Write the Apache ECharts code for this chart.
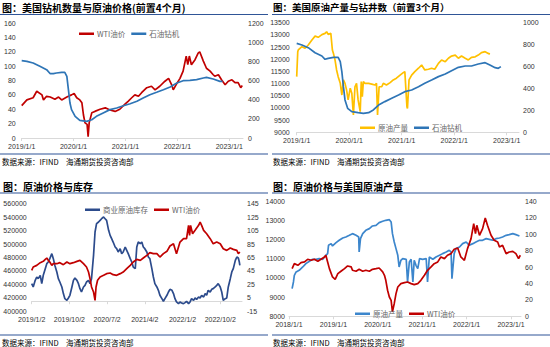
<!DOCTYPE html>
<html><head><meta charset="utf-8">
<script src="https://cdn.jsdelivr.net/npm/echarts@6/dist/echarts.min.js"></script>
<style>html,body{margin:0;padding:0;background:#fff}#c{width:550px;height:347px}</style>
</head><body><div id="c"></div>
<script>
// ---------- Panel 1: rigs (lead 4 months) vs WTI ----------
const p1Years = [2019, 2020, 2021, 2022, 2023];
const p1WtiDates = [2019.00,2019.10,2019.22,2019.29,2019.39,2019.42,2019.48,2019.55,2019.64,2019.71,2019.77,2019.87,2019.96,2020.01,2020.06,2020.12,2020.16,2020.19,2020.22,2020.26,2020.28,2020.30,2020.35,2020.41,2020.51,2020.61,2020.70,2020.80,2020.89,2020.99,2021.05,2021.12,2021.18,2021.25,2021.31,2021.41,2021.50,2021.57,2021.66,2021.76,2021.83,2021.89,2021.92,2021.99,2022.05,2022.11,2022.17,2022.20,2022.23,2022.27,2022.34,2022.40,2022.43,2022.50,2022.56,2022.63,2022.69,2022.72,2022.79,2022.85,2022.92,2022.98,2023.05,2023.11,2023.17,2023.22,2023.25];
const p1WtiValues = [45,53,56,65,60,53,58,57,54,57,53,57,60,62,56,53,49,32,21,19,2,21,35,37,40,42,39,37,40,47,51,56,60,58,63,70,72,67,72,79,83,74,67,76,83,93,114,102,114,102,109,118,120,107,97,93,88,86,88,81,74,79,81,77,77,70,73];
const p1RigDates = [2019.00,2019.10,2019.22,2019.35,2019.48,2019.55,2019.61,2019.67,2019.77,2019.83,2019.87,2019.90,2019.93,2019.96,2020.03,2020.12,2020.25,2020.35,2020.44,2020.57,2020.70,2020.83,2020.96,2021.09,2021.22,2021.34,2021.47,2021.60,2021.73,2021.86,2021.99,2022.11,2022.24,2022.37,2022.50,2022.56,2022.69,2022.82,2022.87];
const p1RigValues = [807,800,783,748,713,671,671,678,685,685,643,504,365,296,226,184,174,191,226,261,296,313,337,358,383,417,452,477,504,532,574,598,602,609,626,633,616,591,591];

// ---------- Panel 2: production vs rigs (lead 3 months) ----------
const p2Years = [2019, 2020, 2021, 2022, 2023];
const p2ProdDates = [2019.00,2019.02,2019.03,2019.10,2019.16,2019.22,2019.29,2019.35,2019.41,2019.48,2019.54,2019.57,2019.60,2019.65,2019.68,2019.70,2019.73,2019.76,2019.79,2019.83,2019.86,2019.89,2019.92,2019.95,2019.98,2020.02,2020.05,2020.08,2020.11,2020.14,2020.17,2020.21,2020.23,2020.25,2020.27,2020.30,2020.37,2020.43,2020.49,2020.52,2020.54,2020.57,2020.62,2020.65,2020.71,2020.78,2020.84,2020.90,2020.97,2021.03,2021.06,2021.10,2021.11,2021.14,2021.19,2021.25,2021.32,2021.38,2021.44,2021.51,2021.57,2021.63,2021.70,2021.76,2021.83,2021.89,2021.95,2022.02,2022.08,2022.14,2022.21,2022.27,2022.33,2022.40,2022.46,2022.52,2022.59,2022.65,2022.68];
const p2ProdValues = [11285,12310,12380,12515,12450,12585,12790,12950,12900,13010,13060,13130,13020,13060,12380,12240,11970,11560,11285,11010,10530,11150,11010,10740,10330,10810,10600,9710,10870,11010,10330,9850,11080,10460,11080,11010,11010,10980,10940,11010,9710,10870,10870,11010,10940,11040,11150,11220,11350,11450,11490,10050,9980,11150,11350,11490,11630,11760,11560,11590,11630,11590,11830,11970,11900,12040,12130,12170,12040,12130,12040,11970,12080,12100,12170,12270,12310,12240,12210];
const p2RigDates = [2019.00,2019.10,2019.22,2019.35,2019.48,2019.54,2019.60,2019.70,2019.79,2019.83,2019.86,2019.89,2019.92,2019.97,2020.05,2020.17,2020.27,2020.37,2020.46,2020.56,2020.68,2020.81,2020.94,2021.06,2021.19,2021.32,2021.44,2021.57,2021.70,2021.83,2021.95,2022.08,2022.21,2022.33,2022.46,2022.59,2022.68,2022.78,2022.84,2022.89];
const p2RigValues = [811,796,772,726,696,666,675,684,684,644,553,416,295,219,188,179,173,179,204,249,280,310,340,371,386,416,447,477,508,532,562,593,605,605,623,635,614,590,584,599];

// ---------- Panel 3: WTI vs commercial inventory ----------
const p3TickDates = [2019, 2019.75, 2020.5, 2021.25, 2022, 2022.75];
const p3TickLabels = ['2019/1/2', '2019/10/2', '2020/7/2', '2021/4/2', '2022/1/2', '2022/10/2'];
const p3RightTicks = [-15, 5, 25, 45, 65, 85, 105, 125, 145];
const p3InvDates = [2019.00,2019.03,2019.07,2019.10,2019.13,2019.17,2019.20,2019.23,2019.27,2019.30,2019.33,2019.36,2019.40,2019.43,2019.46,2019.50,2019.53,2019.56,2019.60,2019.63,2019.66,2019.70,2019.73,2019.76,2019.80,2019.83,2019.86,2019.90,2019.93,2019.96,2019.99,2020.03,2020.06,2020.09,2020.13,2020.16,2020.19,2020.23,2020.26,2020.29,2020.33,2020.36,2020.39,2020.43,2020.46,2020.49,2020.53,2020.56,2020.59,2020.62,2020.66,2020.69,2020.72,2020.76,2020.79,2020.82,2020.86,2020.89,2020.92,2020.96,2020.99,2021.02,2021.06,2021.09,2021.12,2021.16,2021.19,2021.22,2021.25,2021.29,2021.32,2021.35,2021.39,2021.42,2021.45,2021.49,2021.52,2021.55,2021.59,2021.62,2021.65,2021.69,2021.72,2021.75,2021.79,2021.82,2021.85,2021.88,2021.92,2021.95,2021.98,2022.02,2022.05,2022.08,2022.12,2022.15,2022.18,2022.22,2022.25,2022.28,2022.32,2022.35,2022.38,2022.42,2022.45,2022.48,2022.51,2022.55,2022.58,2022.61,2022.65,2022.68,2022.71,2022.75,2022.78,2022.81,2022.85,2022.88,2022.91,2022.95,2022.98,2023.01,2023.05,2023.08,2023.11,2023.13,2023.14];
const p3InvValues = [441100,436200,446000,451000,448500,453500,441100,453500,463400,470800,473300,478300,485700,478300,468400,458500,448500,443600,436200,426300,418800,416300,419800,423800,436200,446000,449500,446000,441100,433700,428700,436200,438600,443600,446000,441100,448500,483200,517900,530300,532800,535200,537700,540200,537700,535200,520400,512900,508000,503000,495600,493100,488200,493100,485700,488200,495600,490600,485700,478300,473300,465800,463400,495600,503000,500600,503000,495600,493100,488200,480700,478300,463400,451000,441100,436200,431200,423800,418800,414900,418800,423800,428700,432700,431200,426300,418800,413900,411400,413900,412400,411400,412900,414900,411400,413900,418800,416300,419800,417800,421300,419800,423800,421300,426300,423800,431200,428700,432700,433700,436200,438600,441100,436200,428700,416300,418800,419800,436200,448500,458500,463400,475800,480700,479200,473300,468400];
const p3WtiDates = [2019.00,2019.03,2019.10,2019.17,2019.23,2019.27,2019.30,2019.33,2019.36,2019.40,2019.43,2019.50,2019.56,2019.63,2019.70,2019.76,2019.83,2019.90,2019.96,2020.03,2020.09,2020.13,2020.16,2020.19,2020.23,2020.26,2020.28,2020.31,2020.36,2020.43,2020.49,2020.56,2020.62,2020.69,2020.76,2020.82,2020.89,2020.96,2021.02,2021.09,2021.16,2021.22,2021.29,2021.35,2021.42,2021.49,2021.55,2021.62,2021.69,2021.75,2021.82,2021.85,2021.88,2021.92,2021.95,2022.02,2022.08,2022.12,2022.14,2022.16,2022.20,2022.25,2022.32,2022.35,2022.38,2022.42,2022.48,2022.55,2022.61,2022.68,2022.75,2022.81,2022.88,2022.95,2023.01,2023.08,2023.11,2023.14];
const p3WtiValues = [45.9,50.9,53.3,57.3,59.3,62.3,64.2,60.8,58.3,53.3,55.8,55.8,57.3,54.3,58.3,55.8,57.3,59.3,60.8,55.8,50.9,43.4,33.5,21.2,13.7,1.3,21.2,31.1,36.0,38.5,41.0,42.0,39.5,38.5,41.0,43.4,48.4,53.3,58.3,62.3,60.8,64.2,68.2,72.2,70.7,70.7,65.7,70.7,74.2,82.1,85.5,78.1,70.7,80.6,88.0,93.0,93.0,112.8,97.9,112.8,100.4,105.4,112.8,117.7,112.8,105.4,100.4,93.0,85.5,88.0,85.5,78.1,75.6,79.1,77.1,75.6,70.7,73.2];

// ---------- Panel 4: WTI vs US crude production ----------
const p4Years = [2018, 2019, 2020, 2021, 2022, 2023];
const p4ProdDates = [2018.07,2018.10,2018.12,2018.16,2018.23,2018.31,2018.38,2018.46,2018.53,2018.61,2018.68,2018.76,2018.83,2018.87,2018.89,2018.95,2018.98,2019.06,2019.13,2019.21,2019.28,2019.36,2019.43,2019.51,2019.57,2019.58,2019.61,2019.66,2019.73,2019.81,2019.88,2019.96,2020.03,2020.11,2020.18,2020.26,2020.30,2020.33,2020.37,2020.41,2020.45,2020.48,2020.52,2020.56,2020.64,2020.67,2020.71,2020.75,2020.79,2020.82,2020.86,2020.90,2020.94,2021.01,2021.09,2021.12,2021.16,2021.24,2021.31,2021.39,2021.46,2021.54,2021.61,2021.65,2021.67,2021.72,2021.76,2021.84,2021.91,2021.99,2022.06,2022.14,2022.21,2022.29,2022.36,2022.44,2022.51,2022.59,2022.66,2022.74,2022.81,2022.89,2022.96,2023.04,2023.11,2023.19];
const p4ProdValues = [9443,9791,10139,10313,10400,10574,10748,10870,10974,10974,11009,10974,11183,11270,11704,11791,11670,11843,11965,12087,12139,12226,12313,12226,12139,11357,12052,12313,12487,12574,12713,12748,12887,12957,13009,13043,12922,12313,11878,11530,11183,10574,10922,11009,10974,9791,10835,10974,9791,10922,10661,10487,11009,10974,11009,9791,11096,10974,11096,11183,11270,11357,11444,11357,9965,11270,11530,11617,11791,11878,11704,11791,11878,11965,11965,12052,12017,11965,12052,12087,12139,12226,12261,12313,12261,12191];
const p4WtiDates = [2018.07,2018.12,2018.20,2018.27,2018.35,2018.42,2018.50,2018.57,2018.65,2018.72,2018.80,2018.83,2018.87,2018.91,2018.98,2019.04,2019.10,2019.17,2019.25,2019.32,2019.40,2019.43,2019.51,2019.58,2019.66,2019.73,2019.81,2019.88,2019.96,2020.03,2020.11,2020.15,2020.18,2020.22,2020.26,2020.30,2020.33,2020.37,2020.41,2020.45,2020.52,2020.60,2020.67,2020.75,2020.82,2020.90,2020.97,2021.05,2021.12,2021.20,2021.27,2021.35,2021.42,2021.50,2021.57,2021.65,2021.72,2021.80,2021.87,2021.95,2022.02,2022.10,2022.16,2022.20,2022.23,2022.29,2022.36,2022.42,2022.47,2022.55,2022.62,2022.70,2022.74,2022.81,2022.89,2022.96,2023.04,2023.11,2023.17,2023.21];
const p4WtiValues = [58.0,64.1,62.1,65.3,66.2,69.4,68.2,69.4,67.0,69.4,72.2,74.3,66.2,58.0,47.9,45.0,51.9,54.8,58.0,61.3,60.1,56.0,54.8,57.2,54.8,56.0,54.8,57.2,58.0,58.8,54.0,49.9,43.8,31.7,23.5,19.5,5.3,15.4,27.6,35.7,39.8,41.0,41.8,39.8,38.6,39.8,43.8,49.9,56.0,60.1,64.1,66.2,72.2,70.2,74.3,76.3,81.6,83.2,72.2,68.2,82.4,94.6,112.8,100.6,110.8,98.6,106.7,119.7,110.8,98.6,92.5,90.5,84.4,86.4,76.3,78.3,79.1,76.3,70.2,74.3];

// ---------- styling ----------
const RED = '#C00000', BLUE = '#2E75B6', GOLD = '#FFC000', NAVY = '#2C4B8C', BLUE4 = '#3C86CC';
const FONT = '"Liberation Sans","Noto Sans CJK SC",sans-serif';
const CJK = '"Noto Sans CJK SC",sans-serif';
const zip = (a, b) => a.map((d, i) => [d, b[i]]);
const lab = { fontSize: 7, color: '#333', fontFamily: FONT };

function xAx(grid, min, max, ticks, fmt) {
  return {
    type: 'value', gridIndex: grid, min: min, max: max,
    splitLine: { show: false },
    axisLine: { show: true, lineStyle: { color: '#D9D9D9', width: 1 } },
    axisTick: { show: true, customValues: ticks, length: 3, lineStyle: { color: '#D9D9D9' } },
    axisLabel: Object.assign({ customValues: ticks, margin: 5, formatter: fmt }, lab)
  };
}
function yAx(grid, pos, min, max, interval, margin, custom) {
  const a = {
    type: 'value', gridIndex: grid, position: pos, min: min, max: max,
    splitLine: { show: false }, axisLine: { show: false }, axisTick: { show: false },
    axisLabel: Object.assign({ margin: margin, formatter: v => String(v) }, lab)
  };
  if (custom) a.axisLabel.customValues = custom; else a.interval = interval;
  return a;
}
const yearFmt = v => v + '/1/1';
const p3Fmt = v => p3TickLabels[p3TickDates.indexOf(v)] || '';

function ser(name, x, y, data, color, z) {
  return { name: name, type: 'line', xAxisIndex: x, yAxisIndex: y, data: data, showSymbol: false,
    lineStyle: { color: color, width: 1.7 }, itemStyle: { color: color }, z: z || 2 };
}
function leg(left, top, items) {
  return { left: left, top: top, icon: 'rect', itemWidth: 15, itemHeight: 2.5, itemGap: 6,
    selectedMode: false, padding: 2,
    textStyle: { fontSize: 7.5, color: '#666', fontFamily: CJK, padding: [0, 0, 0, -2] },
    data: items.map(it => ({ name: it[0], itemStyle: { color: it[1] }, lineStyle: { color: it[1] } })) };
}
function txt(x, y, s, font) {
  return { type: 'text', x: x, y: y, style: { text: s, font: font, fill: '#000', verticalAlign: 'middle', textVerticalAlign: 'middle' } };
}
function hl(x1, x2, y) {
  return { type: 'line', shape: { x1: x1, y1: y, x2: x2, y2: y }, style: { stroke: '#2F5597', lineWidth: 1.2 } };
}
const TF = 'bold 10px ' + CJK, FF = '7.5px ' + CJK;
const SRC = '数据来源：IFIND　海通期货投资咨询部';

const chart = echarts.init(document.getElementById('c'), null, { renderer: 'svg' });
chart.setOption({
  animation: false,
  backgroundColor: '#fff',
  textStyle: { fontFamily: FONT },
  grid: [
    { left: 21.7, top: 23, width: 221.3, height: 115 },
    { left: 296.7, top: 22.7, width: 222.3, height: 109.6 },
    { left: 31.7, top: 203.7, width: 210.3, height: 107.6 },
    { left: 289, top: 201.3, width: 232, height: 115 }
  ],
  xAxis: [
    xAx(0, 2019, 2023.264, p1Years, yearFmt),
    xAx(1, 2019, 2023.235, p2Years, yearFmt),
    xAx(2, 2019, 2023.183, p3TickDates, p3Fmt),
    xAx(3, 2018, 2023.225, p4Years, yearFmt)
  ],
  yAxis: [
    yAx(0, 'left', 0, 160, 20, 6),
    yAx(0, 'right', 0, 1200, 200, 5),
    yAx(1, 'left', 9000, 13500, 500, 7),
    yAx(1, 'right', 0, 1000, 200, 4),
    yAx(2, 'left', 400000, 560000, 20000, 5),
    yAx(2, 'right', -15, 145, null, 5, p3RightTicks),
    yAx(3, 'left', 8000, 14000, 1000, 4),
    yAx(3, 'right', 0, 140, 20, 4)
  ],
  legend: [
    leg(77, 28, [['WTI油价', RED], ['石油钻机', BLUE]]),
    leg(358, 122, [['原油产量', GOLD], ['石油钻机', BLUE]]),
    leg(83, 204, [['商业原油库存', NAVY], ['WTI油价', RED]]),
    leg(353, 308, [['原油产量', BLUE4], ['WTI油价', RED]])
  ],
  series: [
    ser('WTI油价', 0, 0, zip(p1WtiDates, p1WtiValues), RED),
    ser('石油钻机', 0, 1, zip(p1RigDates, p1RigValues), BLUE),
    ser('原油产量', 1, 2, zip(p2ProdDates, p2ProdValues), GOLD),
    ser('石油钻机', 1, 3, zip(p2RigDates, p2RigValues), BLUE),
    ser('商业原油库存', 2, 4, zip(p3InvDates, p3InvValues), NAVY),
    ser('WTI油价', 2, 5, zip(p3WtiDates, p3WtiValues), RED),
    ser('原油产量', 3, 6, zip(p4ProdDates, p4ProdValues), BLUE4),
    ser('WTI油价', 3, 7, zip(p4WtiDates, p4WtiValues), RED)
  ],
  graphic: [
    txt(2, 7, '图：美国钻机数量与原油价格(前置4个月)', TF),
    txt(273, 7, '图：美国原油产量与钻井数（前置3个月）', 'bold 9.5px ' + CJK),
    txt(3, 186, '图：原油价格与库存', TF),
    txt(273, 186, '图：原油价格与美国原油产量', TF),
    hl(0, 268, 14.5), hl(272, 550, 14.5), hl(0, 268, 193), hl(272, 550, 193),
    hl(0, 268, 154), hl(272, 550, 154), hl(0, 268, 335), hl(272, 550, 335),
    txt(2, 161.5, SRC, FF), txt(273, 161.5, SRC, FF),
    txt(2, 342, SRC, FF), txt(273, 342, SRC, FF)
  ]
});
</script></body></html>
